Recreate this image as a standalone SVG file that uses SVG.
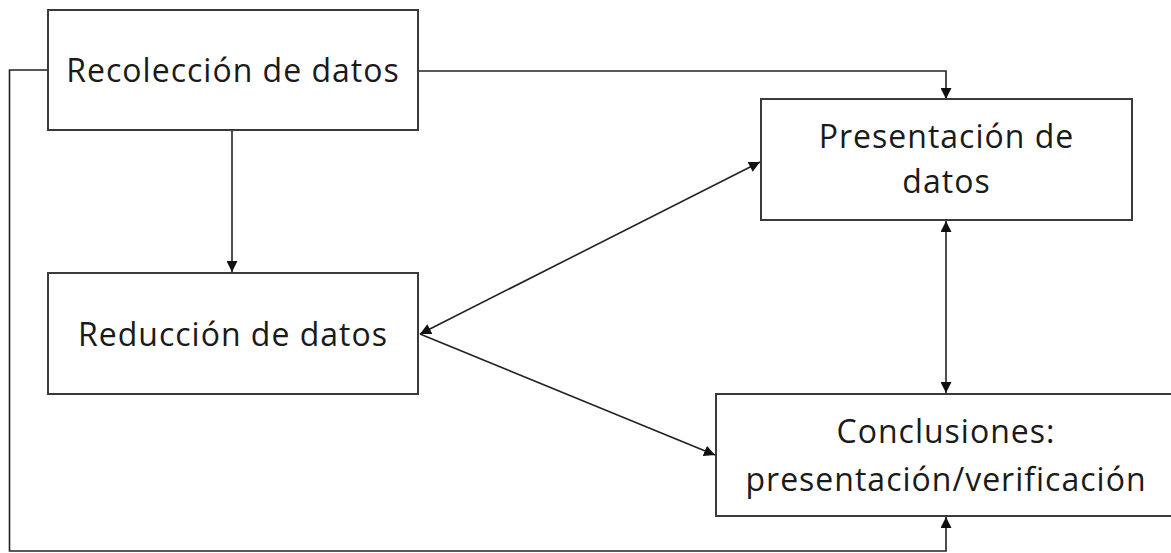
<svg xmlns="http://www.w3.org/2000/svg" width="1171" height="553" viewBox="0 0 1171 553">
<style>
.box{fill:#fff;stroke:#3a3a3a;stroke-width:2}
.lbl{font-family:"Open Sans","Liberation Sans",sans-serif;font-size:32px;letter-spacing:1px;fill:#1a1a1a;text-anchor:middle}
.ln{fill:none;stroke:#222;stroke-width:1.6}
</style>
<defs>
<marker id="ah" viewBox="0 0 10 10" refX="10" refY="5" markerWidth="11" markerHeight="11" markerUnits="userSpaceOnUse" orient="auto-start-reverse">
<path d="M0,0 L10,5 L0,10 Z" fill="#111"/>
</marker>
</defs>
<rect width="1171" height="553" fill="#fff"/>
<g id="connectors">
<path class="ln" d="M48,70 H9.5 V551 H946 V517" marker-end="url(#ah)"/>
<path class="ln" d="M418,71 H946 V99" marker-end="url(#ah)"/>
<path class="ln" d="M232,130 V272" marker-end="url(#ah)"/>
<path class="ln" d="M420,334 L760,162" marker-start="url(#ah)" marker-end="url(#ah)"/>
<path class="ln" d="M420,334 L715,455" marker-end="url(#ah)"/>
<path class="ln" d="M946,221 V393" marker-start="url(#ah)" marker-end="url(#ah)"/>
</g>
<g id="recoleccion">
<rect class="box" x="48" y="10" width="370" height="120"/>
<text class="lbl" x="233" y="82">Recolección de datos</text>
</g>
<g id="reduccion">
<rect class="box" x="48" y="273" width="370" height="121"/>
<text class="lbl" x="233" y="346">Reducción de datos</text>
</g>
<g id="presentacion">
<rect class="box" x="761" y="99" width="371" height="121"/>
<text class="lbl" x="946.5" y="148">Presentación de</text>
<text class="lbl" x="946.5" y="193">datos</text>
</g>
<g id="conclusiones">
<rect class="box" x="716" y="394" width="462" height="122"/>
<text class="lbl" x="946" y="443">Conclusiones:</text>
<text class="lbl" x="946" y="491">presentación/verificación</text>
</g>
</svg>
